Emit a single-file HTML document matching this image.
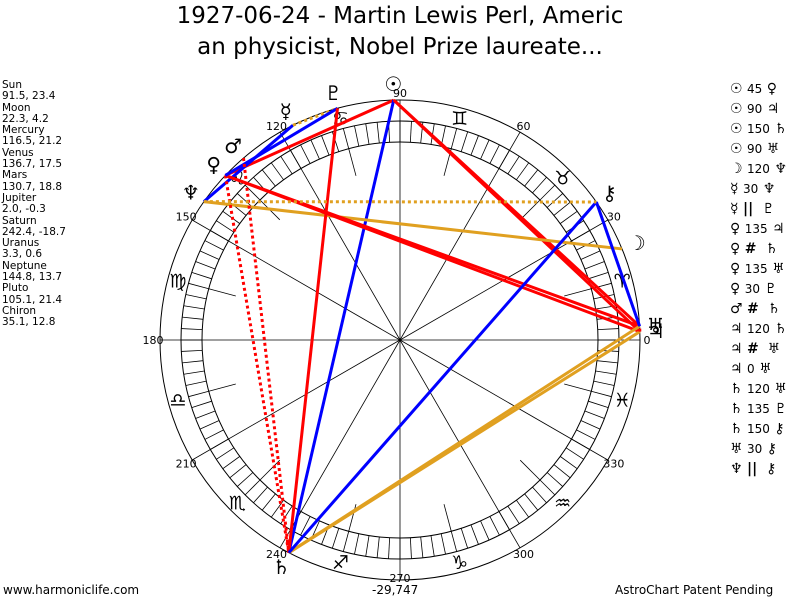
<!DOCTYPE html>
<html><head><meta charset="utf-8"><style>
body{margin:0;background:#fff;width:800px;height:600px;overflow:hidden;position:relative;font-family:"DejaVu Sans",sans-serif}
.t{position:absolute;left:0;width:800px;text-align:center;font-size:23px;color:#000}
#left{position:absolute;left:2px;top:80px;font-size:10.5px;line-height:11.3px;color:#000}
#right{position:absolute;left:730px;top:79px;font-family:"DejaVu Sans",sans-serif;font-size:14px;line-height:20px}
#right small{font-size:12px}
.f{position:absolute;top:583px;font-size:12px}
</style></head><body>
<div class="t" style="top:3px">1927-06-24 - Martin Lewis Perl, Americ</div>
<div class="t" style="top:34px">an physicist, Nobel Prize laureate...</div>
<div id="left">Sun<br>91.5, 23.4<br>Moon<br>22.3, 4.2<br>Mercury<br>116.5, 21.2<br>Venus<br>136.7, 17.5<br>Mars<br>130.7, 18.8<br>Jupiter<br>2.0, -0.3<br>Saturn<br>242.4, -18.7<br>Uranus<br>3.3, 0.6<br>Neptune<br>144.8, 13.7<br>Pluto<br>105.1, 21.4<br>Chiron<br>35.1, 12.8</div>
<div id="right">☉ <small>45</small> ♀<br>☉ <small>90</small> ♃<br>☉ <small>150</small> ♄<br>☉ <small>90</small> ♅<br>☽ <small>120</small> ♆<br>☿ <small>30</small> ♆<br>☿ <b>||</b> &nbsp;♇<br>♀ <small>135</small> ♃<br>♀ <b>#</b> &nbsp;♄<br>♀ <small>135</small> ♅<br>♀ <small>30</small> ♇<br>♂ <b>#</b> &nbsp;♄<br>♃ <small>120</small> ♄<br>♃ <b>#</b> &nbsp;♅<br>♃ <small>0</small> ♅<br>♄ <small>120</small> ♅<br>♄ <small>135</small> ♇<br>♄ <small>150</small> ⚷<br>♅ <small>30</small> ⚷<br>♆ <b>||</b> &nbsp;⚷</div>
<div class="f" style="left:3px">www.harmoniclife.com</div>
<div class="f" style="left:372px">-29,747</div>
<div class="f" style="left:615px">AstroChart Patent Pending</div>
<svg id="s" width="800" height="600" style="position:absolute;left:0;top:0"></svg>
<script>
var cx=400,cy=340,s='';
function P(a,r){var t=a*Math.PI/180;return [cx+r*Math.cos(t),cy-r*Math.sin(t)];}
s+='<circle cx="400" cy="340" r="240" fill="none" stroke="#000" stroke-width="1"/>';
s+='<circle cx="400" cy="340" r="219" fill="none" stroke="#000"/>';
s+='<circle cx="400" cy="340" r="198" fill="none" stroke="#000"/>';
for(var a=0;a<360;a+=3){var p=P(a,198),q=P(a,219);s+='<line x1="'+p[0]+'" y1="'+p[1]+'" x2="'+q[0]+'" y2="'+q[1]+'" stroke="#000" stroke-width="0.8"/>';}
for(var a=0;a<360;a+=30){var q=P(a,240);s+='<line x1="400" y1="340" x2="'+q[0]+'" y2="'+q[1]+'" stroke="#000" stroke-width="0.8"/>';
var l=P(a,a==270?238:247);s+='<text x="'+l[0]+'" y="'+(l[1]+4)+'" font-size="11" text-anchor="middle" font-family="DejaVu Sans,sans-serif">'+a+'</text>';}
for(var a=15;a<360;a+=30){var p=P(a,170),q=P(a,198);s+='<line x1="'+p[0]+'" y1="'+p[1]+'" x2="'+q[0]+'" y2="'+q[1]+'" stroke="#000" stroke-width="0.8"/>';}
var sg='♈♉♊♋♌♍♎♏♐♑♒♓';
for(var i=0;i<12;i++){var p=P(15+30*i,230);s+='<text x="'+p[0]+'" y="'+(p[1]+7)+'" font-size="19" text-anchor="middle" font-family="DejaVu Sans,sans-serif">'+sg[i]+'</text>';}
var pl={Su:[91.5,'☉'],Mo:[22.3,'☽'],Me:[116.5,'☿'],Ve:[136.7,'♀'],Ma:[130.7,'♂'],Ju:[2.0,'♃'],Sa:[242.4,'♄'],Ur:[3.3,'♅'],Ne:[144.8,'♆'],Pl:[105.1,'♇'],Ch:[35.1,'⚷']};
var C={r:'#f00',b:'#00f',o:'#e0a020'};
var asp=[['Su','Ve','r'],['Su','Ju','r'],['Su','Sa','b'],['Su','Ur','r'],['Mo','Ne','o'],['Me','Ne','b'],['Me','Pl','o',1],['Ve','Ju','r'],['Ve','Sa','r',1],['Ve','Ur','r'],['Ve','Pl','b'],['Ma','Sa','r',1],['Ju','Sa','o'],['Ju','Ur','r',1],['Sa','Ur','o'],['Sa','Pl','r'],['Sa','Ch','b'],['Ur','Ch','b'],['Ne','Ch','o',1]];
asp.forEach(function(x){var p=P(pl[x[0]][0],240),q=P(pl[x[1]][0],240);
s+='<line x1="'+p[0]+'" y1="'+p[1]+'" x2="'+q[0]+'" y2="'+q[1]+'" stroke="'+C[x[2]]+'" stroke-width="3"'+(x[3]?' stroke-dasharray="3,3"':'')+'/>';});
for(var k in pl){var p=P(pl[k][0],256);s+='<text x="'+p[0]+'" y="'+(p[1]+7)+'" font-size="20" text-anchor="middle" font-family="DejaVu Sans,sans-serif">'+pl[k][1]+'</text>';}
document.getElementById('s').innerHTML=s;
</script>
</body></html>
